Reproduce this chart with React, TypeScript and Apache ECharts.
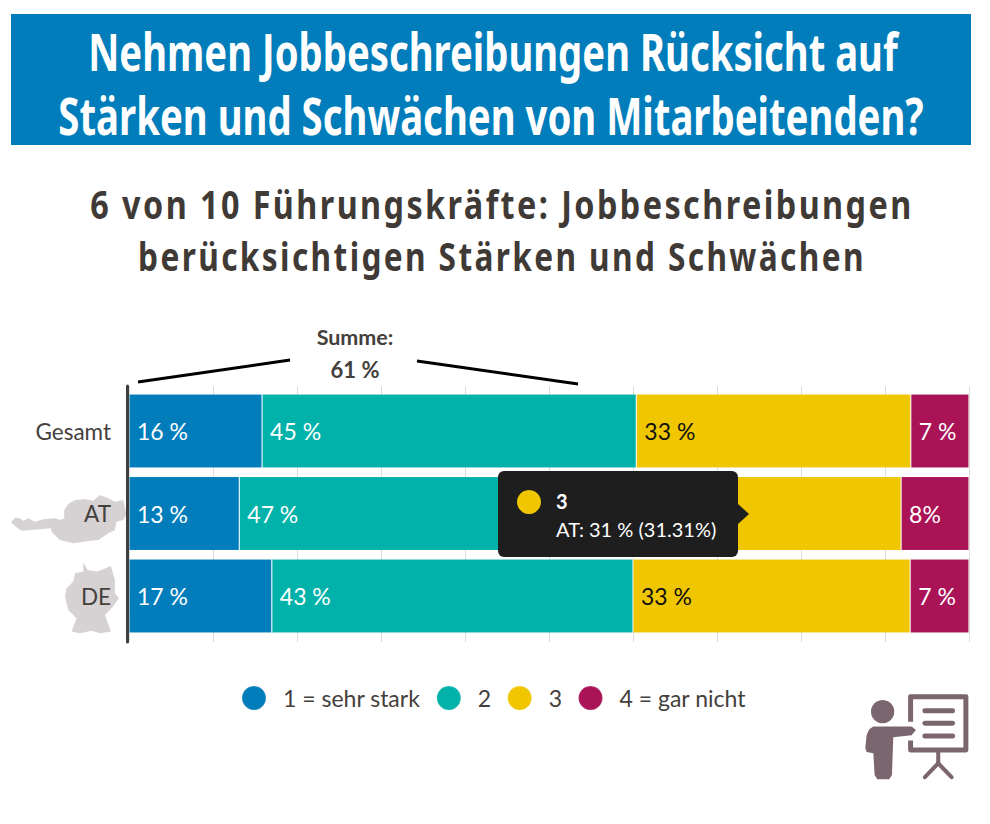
import React, { useEffect, useRef } from "react";
import * as echarts from "echarts";

const categories = ["Gesamt", "AT", "DE"];
const seriesNames = ["1 = sehr stark", "2", "3", "4 = gar nicht"];
const colors = ["#007dba", "#00b2a9", "#f0c600", "#ab1357"];
const labelColors = ["#ffffff", "#ffffff", "#111111", "#ffffff"];
const sehrStark = [16, 13, 17];
const zwei = [45, 47, 43];
const drei = [33, 31, 33];
const garNicht = [7, 8, 7];
const sehrStarkLabels = ["16 %", "13 %", "17 %"];
const zweiLabels = ["45 %", "47 %", "43 %"];
const dreiLabels = ["33 %", "31 %", "33 %"];
const garNichtLabels = ["7 %", "8%", "7 %"];
const xTicks = { min: 0, max: 100, interval: 10 };

const austria = [[18,97],[30,83],[45,85],[55,93],[70,85],[90,95],[115,88],[150,85],[165,90],[178,85],[178,60],[190,42],[210,30],[240,28],[265,32],[285,15],[310,25],[330,35],[355,30],[365,75],[355,90],[335,95],[330,120],[310,130],[280,150],[240,155],[205,160],[165,150],[140,125],[138,115],[50,122],[35,112]];
const germany = [[235,218],[248,240],[275,245],[290,240],[318,228],[330,270],[330,310],[342,325],[320,355],[300,375],[318,425],[285,430],[260,423],[225,430],[200,425],[215,385],[190,360],[180,320],[185,295],[205,275],[210,250],[235,245]];
const personBody = [[100,140],[215,140],[228,150],[215,166],[160,172],[156,285],[148,298],[112,298],[104,285],[100,220],[80,216],[76,205],[80,165],[88,148]];

const FONT = "Lato, 'Noto Sans', sans-serif";
const NARROW = "'Noto Sans', sans-serif";
const INK = "#44403c";
const ICON = "#7b6670";
const SUB_SPACING = 3;

const fitScale = (t: string, size: number, target: number, spacing = 0) => {
  const ctx = document.createElement("canvas").getContext("2d")!;
  ctx.font = `700 ${size}px ${NARROW}`;
  return target / (ctx.measureText(t).width + spacing * t.length);
};

const App = () => {
  const ref = useRef<HTMLDivElement>(null);
  useEffect(() => {
    const chart = echarts.init(ref.current!, null, { renderer: "svg" });
    const rows = [sehrStark, zwei, drei, garNicht];
    const labels = [sehrStarkLabels, zweiLabels, dreiLabels, garNichtLabels];
    const totals = categories.map((_, i) => rows.reduce((s, r) => s + r[i], 0));
    const text = (t: string, x: number, y: number, size: number, fill: string, weight: any, align: any = "center", family = FONT, extra: any = {}) => ({
      type: "text", x, y, z: 100, silent: true, ...extra,
      style: { text: t, fill, fontSize: size, fontWeight: weight, fontFamily: family, textAlign: align, textVerticalAlign: "middle" },
    });
    const narrow = (t: string, x: number, y: number, size: number, fill: string, target: number, spacing = 0) =>
      text(t, x, y, size, fill, 700, "center", NARROW, { scaleX: fitScale(t, size, target, spacing) });
    const iconLine = (shape: any, w: number) => ({ type: "line", shape, style: { stroke: ICON, lineWidth: w, lineCap: "round" } });
    chart.setOption({
      animation: false,
      grid: [
        { left: 129, width: 840, top: 386, height: 256 },
        { left: 129, width: 840, top: 389.75, height: 247.5 },
      ],
      xAxis: [
        { type: "value", gridIndex: 0, ...xTicks, axisLine: { show: false }, axisTick: { show: false }, axisLabel: { show: false }, splitLine: { show: true, lineStyle: { color: "#dcdcdc", width: 1 } } },
        { type: "value", gridIndex: 1, ...xTicks, axisLine: { show: false }, axisTick: { show: false }, axisLabel: { show: false }, splitLine: { show: false } },
      ],
      yAxis: [
        { type: "category", gridIndex: 0, data: categories, inverse: true, offset: 1.5, axisLine: { show: true, onZero: false, lineStyle: { color: "#3f3f3f", width: 3 } }, axisTick: { show: false }, axisLabel: { show: false }, splitLine: { show: false } },
        { type: "category", gridIndex: 1, data: categories, inverse: true, z: 5, axisLine: { show: false }, axisTick: { show: false }, axisLabel: { color: INK, fontSize: 22.5, fontFamily: FONT, margin: 18 }, splitLine: { show: false } },
      ],
      legend: {
        left: 241, top: 685, padding: 0, icon: "circle", itemWidth: 24, itemHeight: 24, itemGap: 15.5,
        data: seriesNames,
        textStyle: { color: INK, fontSize: 23, fontFamily: FONT, padding: [0, 0, 0, 12] },
      },
      series: seriesNames.map((name, s) => ({
        name, type: "bar", stack: "total", xAxisIndex: 1, yAxisIndex: 1, barWidth: 74,
        itemStyle: { color: colors[s], borderColor: "rgba(255,255,255,0.1)", borderWidth: 1 },
        label: {
          show: true, position: "insideLeft", distance: 8, color: labelColors[s], fontSize: 23, fontFamily: FONT,
          formatter: (p: any) => labels[s][p.dataIndex],
        },
        data: rows[s].map((v, i) => (v / totals[i]) * 100),
      })),
      graphic: [
        { type: "rect", z: 1, silent: true, shape: { x: 11, y: 14, width: 960, height: 131 }, style: { fill: "#007dba" } },
        narrow("Nehmen Jobbeschreibungen Rücksicht auf", 493, 50, 52, "#ffffff", 810),
        narrow("Stärken und Schwächen von Mitarbeitenden?", 491, 115, 52, "#ffffff", 866),
        narrow("6 von 10 Führungskräfte: Jobbeschreibungen", 502, 204, 40, "#3f3a36", 823, SUB_SPACING),
        narrow("berücksichtigen Stärken und Schwächen", 502, 255, 40, "#3f3a36", 728, SUB_SPACING),
        text("Summe:", 355, 337, 21.5, INK, 700),
        text("61 %", 355, 369, 22, INK, 700),
        { type: "line", z: 10, silent: true, shape: { x1: 138, y1: 382, x2: 290, y2: 360 }, style: { stroke: "#000", lineWidth: 3 } },
        { type: "line", z: 10, silent: true, shape: { x1: 417, y1: 361, x2: 578, y2: 384 }, style: { stroke: "#000", lineWidth: 3 } },
        { type: "polygon", z: 0, silent: true, x: 5, y: 490, scaleX: 1 / 3, scaleY: 1 / 3, shape: { points: austria }, style: { fill: "#d6d1d3" } },
        { type: "polygon", z: 0, silent: true, x: 5, y: 490, scaleX: 1 / 3, scaleY: 1 / 3, shape: { points: germany }, style: { fill: "#d6d1d3" } },
        { type: "rect", z: 90, silent: true, shape: { x: 498, y: 471, width: 240, height: 86, r: 6 }, style: { fill: "#1e1e1e" } },
        { type: "polygon", z: 90, silent: true, shape: { points: [[738, 504], [749, 514], [738, 524]] }, style: { fill: "#1e1e1e" } },
        { type: "circle", z: 100, silent: true, shape: { cx: 529, cy: 502, r: 12 }, style: { fill: colors[2] } },
        text("3", 556, 501, 20, "#ffffff", 700, "left"),
        text("AT: 31 % (31.31%)", 556, 529, 20, "#ffffff", 400, "left"),
        {
          type: "group", x: 840, y: 680, scaleX: 1 / 3, scaleY: 1 / 3, silent: true,
          children: [
            { type: "circle", shape: { cx: 128, cy: 95, r: 35 }, style: { fill: ICON } },
            { type: "polygon", shape: { points: personBody }, style: { fill: ICON } },
            { type: "polyline", shape: { points: [[212, 125], [212, 50], [378, 50], [378, 210], [212, 210], [212, 182]] }, style: { stroke: ICON, lineWidth: 15, fill: "none", lineJoin: "round" } },
            iconLine({ x1: 255, y1: 92, x2: 338, y2: 92 }, 15),
            iconLine({ x1: 255, y1: 130, x2: 338, y2: 130 }, 15),
            iconLine({ x1: 255, y1: 168, x2: 338, y2: 168 }, 15),
            iconLine({ x1: 295, y1: 215, x2: 295, y2: 250 }, 12),
            iconLine({ x1: 295, y1: 250, x2: 255, y2: 292 }, 12),
            iconLine({ x1: 295, y1: 250, x2: 335, y2: 292 }, 12),
          ],
        },
      ],
    });
    ref.current!.querySelectorAll("text").forEach((el) => {
      const t = el.textContent || "";
      if (t.startsWith("6 von 10") || t.startsWith("berücksichtigen")) el.style.letterSpacing = `${SUB_SPACING}px`;
    });
    return () => chart.dispose();
  }, []);
  return <div ref={ref} style={{ position: "absolute", left: 0, top: 0, width: 990, height: 824 }} />;
};

export default App;
